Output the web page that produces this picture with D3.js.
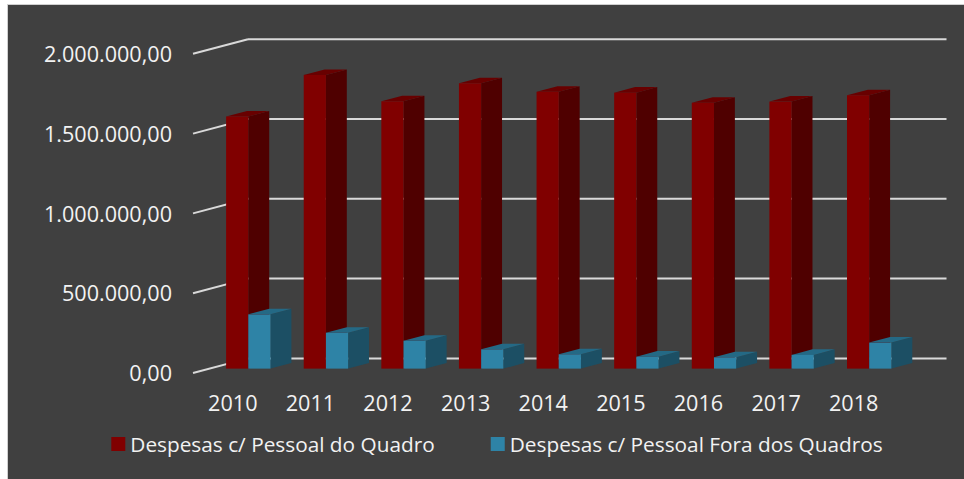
<!DOCTYPE html>
<html>
<head>
<meta charset="utf-8">
<script src="https://cdn.jsdelivr.net/npm/d3@7"></script>
<style>
  body { margin: 0; background: #fff; }
  svg text { font-family: "Open Sans", sans-serif; fill: #f2f2f2; }
</style>
</head>
<body>
<svg width="964" height="479"></svg>
<script>
// data
var years = ["2010", "2011", "2012", "2013", "2014", "2015", "2016", "2017", "2018"];
var seriesNames = ["Despesas c/ Pessoal do Quadro", "Despesas c/ Pessoal Fora dos Quadros"];
var quadro = [1580000, 1840000, 1675000, 1788000, 1735000, 1729000, 1666000, 1673000, 1713000];
var foraQuadros = [340000, 225000, 175000, 121000, 90000, 75000, 71000, 86000, 163000];
var yTicks = [0, 500000, 1000000, 1500000, 2000000];

var colors = [
  {front: "#800000", side: "#4f0000", top: "#680000"},
  {front: "#2e83a6", side: "#1c4f64", top: "#246985"}
];

var svg = d3.select("svg");

// frame
svg.append("rect").attr("x", 7.5).attr("y", 4.5).attr("width", 964).attr("height", 480)
  .attr("fill", "#404040").attr("stroke", "#d0d0d0").attr("stroke-width", 1);

// oblique 3d: depth offset of the back wall
var DX = 55, DY = 14.6;

var x0 = d3.scaleBand().domain(years).range([193, 891.5])
  .paddingInner(0.428).paddingOuter(0.214);
var x1 = d3.scaleBand().domain(seriesNames).range([0, x0.bandwidth()]);
var y = d3.scaleLinear().domain([0, 2000000]).range([373, 53.8]);

var ptBR = d3.formatLocale({decimal: ",", thousands: ".", grouping: [3], currency: ["R$", ""]});
var fmt = ptBR.format(",.2f");

// gridlines: back wall + left side
var grid = svg.append("g").attr("stroke", "#d9d9d9").attr("stroke-width", 2).attr("fill", "none");
yTicks.forEach(function(t) {
  grid.append("line").attr("x1", 193 + DX).attr("x2", 891.5 + DX)
    .attr("y1", y(t) - DY).attr("y2", y(t) - DY);
  grid.append("line").attr("x1", 193).attr("x2", 193 + DX)
    .attr("y1", y(t)).attr("y2", y(t) - DY);
});

svg.append("g").selectAll("text").data(yTicks).enter().append("text")
  .attr("x", 172).attr("y", function(d) { return y(d); }).attr("dy", "0.38em")
  .attr("text-anchor", "end").style("font-size", "21.6px")
  .text(function(d) { return fmt(d); });

// bars
var d0 = 0.3, d1 = 0.68;
var bars = [];
years.forEach(function(yr, i) {
  bars.push({year: yr, s: 0, v: quadro[i]});
  bars.push({year: yr, s: 1, v: foraQuadros[i]});
});

var g = svg.append("g");
bars.forEach(function(b) {
  var xl = x0(b.year) + x1(seriesNames[b.s]);
  var xr = xl + x1.bandwidth();
  var yt = y(b.v), yb = y(0);
  var c = colors[b.s];
  var pts = function(a) { return a.map(function(p) { return p.join(","); }).join(" "); };
  // side
  g.append("polygon").attr("fill", c.side).attr("points", pts([
    [xr + d0 * DX, yt - d0 * DY], [xr + d1 * DX, yt - d1 * DY],
    [xr + d1 * DX, yb - d1 * DY], [xr + d0 * DX, yb - d0 * DY]]));
  // top
  g.append("polygon").attr("fill", c.top).attr("points", pts([
    [xl + d0 * DX, yt - d0 * DY], [xr + d0 * DX, yt - d0 * DY],
    [xr + d1 * DX, yt - d1 * DY], [xl + d1 * DX, yt - d1 * DY]]));
  // front
  g.append("rect").attr("fill", c.front)
    .attr("x", xl + d0 * DX).attr("y", yt - d0 * DY)
    .attr("width", x1.bandwidth()).attr("height", yb - yt);
});

// x labels
svg.append("g").selectAll("text").data(years).enter().append("text")
  .attr("x", function(d) { return x0(d) + x0.bandwidth() / 2 + 1; })
  .attr("y", 410.5).attr("text-anchor", "middle").style("font-size", "21.6px")
  .text(function(d) { return d; });

// legend
var leg = svg.append("g");
var items = leg.selectAll("g").data(seriesNames).enter().append("g");
items.append("rect").attr("width", 14).attr("height", 14).attr("y", 437)
  .attr("fill", function(d, i) { return colors[i].front; });
items.append("text").attr("x", 19).attr("y", 451.5).style("font-size", "20.8px")
  .text(function(d) { return d; });
var widths = [];
items.each(function() { widths.push(d3.select(this).select("text").node().getComputedTextLength() + 19); });
var total = widths[0] + 56 + widths[1];
var start = 497 - total / 2;
items.attr("transform", function(d, i) {
  return "translate(" + (i === 0 ? start : start + widths[0] + 56) + ",0)";
});
</script>
</body>
</html>
